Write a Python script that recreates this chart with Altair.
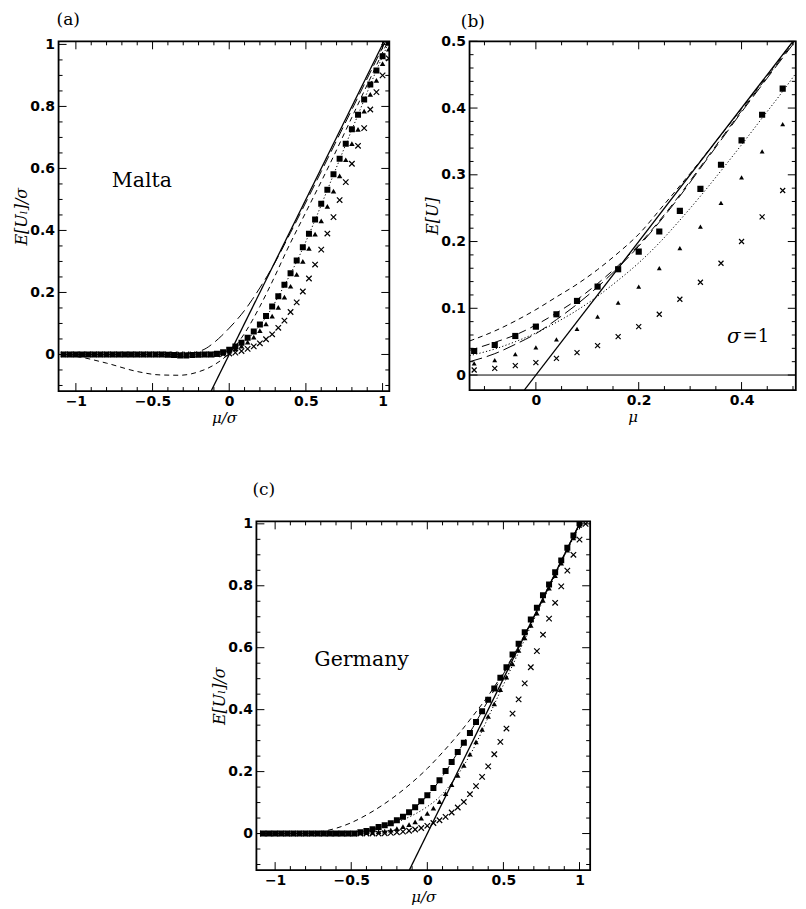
import altair as alt
import pandas as pd

# ---------------- shared x grid of the simulated points (panels a and c)
GRID = [-1.08, -1.04, -1.00, -0.96, -0.92, -0.88, -0.84, -0.80, -0.76, -0.72,
        -0.68, -0.64, -0.60, -0.56, -0.52, -0.48, -0.44, -0.40, -0.36, -0.32,
        -0.28, -0.24, -0.20, -0.16, -0.12, -0.08, -0.04, 0.00, 0.04, 0.08,
        0.12, 0.16, 0.20, 0.24, 0.28, 0.32, 0.36, 0.40, 0.44, 0.48,
        0.52, 0.56, 0.60, 0.64, 0.68, 0.72, 0.76, 0.80, 0.84, 0.88,
        0.92, 0.96, 1.00, 1.04]

# ---------------- panel (a) Malta
A_SQ = [0, 0, 0, 0, 0, 0, 0, 0, 0, 0,
        0, 0, 0, 0, 0, 0, 0, -0.001, -0.002, -0.003,
        -0.003, -0.002, -0.001, 0, 0, 0.002, 0.007, 0.015, 0.026, 0.038,
        0.054, 0.074, 0.097, 0.124, 0.155, 0.188, 0.225, 0.262, 0.303, 0.346,
        0.389, 0.435, 0.486, 0.531, 0.581, 0.631, 0.680, 0.726, 0.773, 0.822,
        0.871, 0.916, 0.962, 1.005]
A_TR = [0, 0, 0, 0, 0, 0, 0, 0, 0, 0,
        0, 0, 0, 0, 0, 0, 0, 0, 0, 0,
        0, 0, 0, 0, 0, 0, 0.004, 0.010, 0.018, 0.027,
        0.040, 0.056, 0.077, 0.099, 0.124, 0.152, 0.185, 0.220, 0.258, 0.300,
        0.342, 0.388, 0.431, 0.478, 0.527, 0.576, 0.628, 0.680, 0.726, 0.785,
        0.839, 0.884, 0.938, 0.985]
A_CR = [0, 0, 0, 0, 0, 0, 0, 0, 0, 0,
        0, 0, 0, 0, 0, 0, 0, 0, 0, 0,
        0, 0, 0, 0, 0, 0, 0.001, 0.003, 0.006, 0.011,
        0.018, 0.026, 0.036, 0.049, 0.065, 0.086, 0.109, 0.137, 0.168, 0.203,
        0.245, 0.290, 0.338, 0.390, 0.443, 0.498, 0.556, 0.615, 0.673, 0.730,
        0.790, 0.846, 0.900, 0.955]

A_SOLID_X = [-0.118, 1.01]
A_SOLID_Y = [-0.118, 1.01]
A_LONG_X = [-1.113, -0.35, -0.25, -0.2, -0.15, -0.1, -0.05, 0, 0.05, 0.1, 0.15, 0.2, 0.25, 0.3, 0.4, 0.6, 0.8, 1.02]
A_LONG_Y = [0, 0, 0.003, 0.009, 0.02, 0.038, 0.06, 0.085, 0.112, 0.142, 0.177, 0.215, 0.255, 0.298, 0.393, 0.59, 0.79, 1.01]
A_SHORT_X = [-1.113, -1.0, -0.8, -0.6, -0.45, -0.32, -0.2, -0.1, 0, 0.1, 0.2, 0.3, 0.375, 0.5, 0.657, 0.8, 0.9, 1.035]
A_SHORT_Y = [0, -0.006, -0.028, -0.055, -0.066, -0.067, -0.056, -0.034, 0.004, 0.068, 0.155, 0.255, 0.335, 0.459, 0.615, 0.765, 0.87, 1.01]
A_DOT_X = [-1.113, -0.3, -0.15, -0.05, 0.05, 0.15, 0.25, 0.35, 0.45, 0.55, 0.65, 0.75, 0.85, 0.95, 1.044]
A_DOT_Y = [0, 0, 0.002, 0.008, 0.025, 0.065, 0.128, 0.214, 0.31, 0.422, 0.543, 0.665, 0.785, 0.905, 1.01]

# ---------------- panel (b) sigma = 1
GRID_B = [-0.12, -0.08, -0.04, 0.00, 0.04, 0.08, 0.12, 0.16, 0.20, 0.24, 0.28, 0.32, 0.36, 0.40, 0.44, 0.48]
B_SQ = [0.036, 0.045, 0.0585, 0.0725, 0.091, 0.111, 0.1325, 0.1585, 0.185, 0.215, 0.246, 0.279, 0.315, 0.3515, 0.39, 0.429]
B_TR = [0.0175, 0.0225, 0.0315, 0.0415, 0.0535, 0.069, 0.0875, 0.1085, 0.1325, 0.16, 0.19, 0.2225, 0.258, 0.296, 0.335, 0.376]
B_CR = [0.0075, 0.010, 0.014, 0.0185, 0.025, 0.0335, 0.044, 0.0575, 0.0725, 0.091, 0.1135, 0.139, 0.1675, 0.200, 0.237, 0.2765]

B_SOLID_X = [-0.0225, 0.5]
B_SOLID_Y = [-0.0225, 0.5]
B_ZERO_X = [-0.129, 0.5055]
B_ZERO_Y = [0, 0]
B_SHORT_X = [-0.129, -0.08, -0.04, 0, 0.04, 0.08, 0.12, 0.16, 0.2, 0.25, 0.3, 0.35, 0.4, 0.45, 0.5]
B_SHORT_Y = [0.051, 0.066, 0.081, 0.098, 0.117, 0.136, 0.158, 0.183, 0.211, 0.256, 0.302, 0.35, 0.399, 0.449, 0.5]
B_MED_X = [-0.129, -0.08, -0.04, 0, 0.04, 0.08, 0.12, 0.16, 0.2, 0.24, 0.28, 0.32, 0.36, 0.4, 0.45, 0.5025]
B_MED_Y = [0.037, 0.049, 0.06, 0.075, 0.093, 0.113, 0.137, 0.164, 0.195, 0.231, 0.27, 0.312, 0.354, 0.396, 0.447, 0.5]
B_LONG_X = [-0.129, -0.08, -0.04, 0, 0.04, 0.08, 0.12, 0.16, 0.2, 0.24, 0.28, 0.32, 0.36, 0.4, 0.45, 0.5045]
B_LONG_Y = [0.02, 0.032, 0.046, 0.062, 0.083, 0.106, 0.132, 0.161, 0.193, 0.229, 0.268, 0.31, 0.352, 0.394, 0.445, 0.5]
B_DOT_X = [-0.129, -0.08, -0.04, 0, 0.04, 0.08, 0.12, 0.16, 0.2, 0.24, 0.28, 0.32, 0.36, 0.4, 0.44, 0.48, 0.5055]
B_DOT_Y = [0.029, 0.039, 0.05, 0.063, 0.079, 0.097, 0.118, 0.142, 0.168, 0.198, 0.232, 0.268, 0.306, 0.345, 0.385, 0.425, 0.452]

# ---------------- panel (c) Germany
C_SQ = [0, 0, 0, 0, 0, 0, 0, 0, 0, 0,
        0, 0, 0, 0, 0, 0, 0.004, 0.008, 0.014, 0.021,
        0.027, 0.033, 0.043, 0.054, 0.069, 0.085, 0.104, 0.124, 0.147, 0.172,
        0.202, 0.231, 0.263, 0.293, 0.325, 0.36, 0.395, 0.432, 0.468, 0.503,
        0.537, 0.578, 0.613, 0.65, 0.691, 0.729, 0.769, 0.804, 0.844, 0.882,
        0.923, 0.962, 1.002, None]
C_TR = [0, 0, 0, 0, 0, 0, 0, 0, 0, 0,
        0, 0, 0, 0, 0, 0, 0.002, 0.003, 0.004, 0.006,
        0.008, 0.011, 0.016, 0.022, 0.029, 0.038, 0.05, 0.065, 0.082, 0.103,
        0.129, 0.158, 0.188, 0.22, 0.256, 0.296, 0.336, 0.378, 0.419, 0.465,
        0.505, 0.548, 0.591, 0.632, 0.672, 0.712, 0.753, 0.792, 0.833, 0.873,
        0.915, 0.955, 0.995, None]
C_CR = [0, 0, 0, 0, 0, 0, 0, 0, 0, 0,
        0, 0, 0, 0, 0, 0, 0, 0, 0, 0,
        0.001, 0.002, 0.004, 0.006, 0.009, 0.013, 0.018, 0.025, 0.034, 0.043,
        0.054, 0.068, 0.084, 0.102, 0.127, 0.153, 0.183, 0.217, 0.256, 0.296,
        0.339, 0.387, 0.433, 0.485, 0.537, 0.589, 0.642, 0.694, 0.745, 0.798,
        0.849, 0.900, 0.949, 1.0]

C_SOLID_X = [-0.118, 1.008]
C_SOLID_Y = [-0.118, 1.008]
C_SHORT_X = [-1.123, -0.8, -0.7, -0.6, -0.5, -0.4, -0.3, -0.2, -0.1, 0, 0.1, 0.2, 0.3, 0.4, 0.5, 0.6, 0.7, 0.8, 0.9, 1.008]
C_SHORT_Y = [0, 0, 0.006, 0.017, 0.035, 0.06, 0.09, 0.125, 0.165, 0.21, 0.262, 0.318, 0.38, 0.445, 0.52, 0.607, 0.7, 0.8, 0.9, 1.008]
C_LONG_X = [-1.123, -0.6, -0.4, -0.3, -0.2, -0.1, 0, 0.1, 0.2, 0.3, 0.4, 0.5, 0.6, 0.7, 0.8, 0.9, 1.008]
C_LONG_Y = [0, 0.002, 0.009, 0.019, 0.04, 0.076, 0.122, 0.185, 0.262, 0.343, 0.43, 0.515, 0.605, 0.698, 0.798, 0.9, 1.008]
C_DOT_X = [-1.123, -0.6, -0.5, -0.4, -0.3, -0.2, -0.1, 0, 0.08, 0.16, 0.24, 0.32, 0.4, 0.5, 0.6, 0.7, 0.8, 0.9, 1.015]
C_DOT_Y = [0, 0.002, 0.005, 0.012, 0.022, 0.037, 0.058, 0.087, 0.118, 0.163, 0.22, 0.29, 0.375, 0.48, 0.585, 0.69, 0.792, 0.895, 1.008]

# ---------------- axes: labels and tick positions
AC_XLAB = [-1, -0.5, 0, 0.5, 1]
AC_YLAB = [0, 0.2, 0.4, 0.6, 0.8, 1]
AC_XMINOR = [-0.9, -0.8, -0.7, -0.6, -0.4, -0.3, -0.2, -0.1, 0.1, 0.2, 0.3, 0.4, 0.6, 0.7, 0.8, 0.9]
AC_YMINOR = [-0.1, -0.05, 0.05, 0.1, 0.15, 0.25, 0.3, 0.35, 0.45, 0.5, 0.55, 0.65, 0.7, 0.75, 0.85, 0.9, 0.95]
B_XLAB = [0, 0.2, 0.4]
B_YLAB = [0, 0.1, 0.2, 0.3, 0.4, 0.5]
B_XMINOR = [-0.1, -0.05, 0.05, 0.1, 0.15, 0.25, 0.3, 0.35, 0.45, 0.5]
B_YMINOR = [0.02, 0.04, 0.06, 0.08, 0.12, 0.14, 0.16, 0.18, 0.22, 0.24, 0.26, 0.28,
            0.32, 0.34, 0.36, 0.38, 0.42, 0.44, 0.46, 0.48]

SERIF = "DejaVu Serif"
SANS = "DejaVu Sans"
CROSS = "M-1,-1L1,1M-1,1L1,-1"


def panel(W, H, xdom, ydom, xlab, ylab, xtitle, ytitle, lines, points, texts,
          xminor, yminor, title, title_dx, title_offset):
    sx = alt.Scale(domain=xdom, nice=False, zero=False)
    sy = alt.Scale(domain=ydom, nice=False, zero=False)
    common = dict(ticks=False, tickSize=0, domain=False, grid=False,
                  labelFont=SANS, labelFontWeight="bold", labelFontSize=14,
                  labelColor="black", format="~g",
                  titleFont=SERIF, titleFontStyle="italic", titleFontWeight="normal",
                  titleColor="black")
    axx = alt.Axis(values=xlab, labelPadding=3, titlePadding=2, title=xtitle,
                   titleFontSize=15, **common)
    axy = alt.Axis(values=ylab, labelPadding=4, titlePadding=0, title=ytitle,
                   titleFontSize=16, **common)

    def X(f):
        return alt.X(f, type="quantitative", scale=sx, axis=axx)

    def Y(f):
        return alt.Y(f, type="quantitative", scale=sy, axis=axy)

    layers = []
    for xs, ys, dash, sw in lines:
        df = pd.DataFrame({"x": xs, "y": ys})
        kw = dict(color="black", strokeWidth=sw, clip=True, interpolate="monotone")
        if dash:
            kw["strokeDash"] = dash
        layers.append(alt.Chart(df).mark_line(**kw).encode(x=X("x"), y=Y("y")))

    for xs, ys, shape, size, filled in points:
        df = pd.DataFrame({"x": xs, "y": ys}).dropna()
        if filled:
            m = alt.Chart(df).mark_point(shape=shape, size=size, filled=True, color="black",
                                         opacity=1, clip=True)
        else:
            m = alt.Chart(df).mark_point(shape=shape, size=size, filled=False, color="black",
                                         strokeWidth=1.2, opacity=1, clip=True)
        layers.append(m.encode(x=X("x"), y=Y("y")))

    for tx, ty, label, size, style, align in texts:
        df = pd.DataFrame({"x": [tx], "y": [ty], "t": [label]})
        layers.append(alt.Chart(df).mark_text(font=SERIF, fontSize=size, fontStyle=style,
                                              align=align, baseline="middle", color="black")
                      .encode(x=X("x"), y=Y("y"), text="t:N"))

    # inward ticks on all four sides
    for vals, L in [(xlab, 8), (xminor, 4)]:
        base = alt.Chart(pd.DataFrame({"t": vals})).mark_rule(color="black", strokeWidth=1)
        layers.append(base.encode(x=X("t"), y=alt.value(H), y2=alt.value(H - L)))
        layers.append(base.encode(x=X("t"), y=alt.value(0), y2=alt.value(L)))
    for vals, L in [(ylab, 8), (yminor, 4)]:
        base = alt.Chart(pd.DataFrame({"t": vals})).mark_rule(color="black", strokeWidth=1)
        layers.append(base.encode(y=Y("t"), x=alt.value(0), x2=alt.value(L)))
        layers.append(base.encode(y=Y("t"), x=alt.value(W), x2=alt.value(W - L)))

    frame = alt.Chart(pd.DataFrame({"z": [0]})).mark_rect(
        filled=False, stroke="black", strokeWidth=1.8).encode(
        x=alt.value(0), x2=alt.value(W), y=alt.value(0), y2=alt.value(H))
    layers.append(frame)

    return alt.layer(*layers).properties(
        width=W, height=H,
        title=alt.TitleParams(text=title, anchor="start", frame="group", font=SERIF,
                              fontSize=17, fontWeight="normal", color="black",
                              offset=title_offset, dx=title_dx))


SOLID = 1.3
pa = panel(331, 350, [-1.113, 1.044], [-0.118, 1.01], AC_XLAB, AC_YLAB, "μ/σ", "E[Uₗ]/σ",
           [(A_SOLID_X, A_SOLID_Y, None, SOLID),
            (A_LONG_X, A_LONG_Y, [11, 5], 1.0),
            (A_SHORT_X, A_SHORT_Y, [5, 4], 1.0),
            (A_DOT_X, A_DOT_Y, [1.2, 2.2], 1.0)],
           [(GRID, A_CR, CROSS, 30, False),
            (GRID, A_TR, "triangle-up", 30, True),
            (GRID, A_SQ, "square", 36, True)],
           [(-0.57, 0.561, "Malta", 20.5, "normal", "center")],
           AC_XMINOR, AC_YMINOR, "(a)", -2, 8.3)

pb = panel(326.5, 349, [-0.129, 0.5055], [-0.0225, 0.5], B_XLAB, B_YLAB, "μ", "E[U]",
           [(B_SOLID_X, B_SOLID_Y, None, SOLID),
            (B_ZERO_X, B_ZERO_Y, None, 1.0),
            (B_SHORT_X, B_SHORT_Y, [5, 4], 1.0),
            (B_MED_X, B_MED_Y, [8, 5], 1.0),
            (B_LONG_X, B_LONG_Y, [13, 5], 1.0),
            (B_DOT_X, B_DOT_Y, [1.2, 2.2], 1.0)],
           [(GRID_B, B_CR, CROSS, 25, False),
            (GRID_B, B_TR, "triangle-up", 24, True),
            (GRID_B, B_SQ, "square", 38, True)],
           [(0.398, 0.0575, "σ", 20, "italic", "right"),
            (0.402, 0.0575, "=1", 18, "normal", "left")],
           B_XMINOR, B_YMINOR, "(b)", -8.7, 3.0)

pc = panel(334, 349, [-1.123, 1.07], [-0.118, 1.008], AC_XLAB, AC_YLAB, "μ/σ", "E[Uₗ]/σ",
           [(C_SOLID_X, C_SOLID_Y, None, SOLID),
            (C_SHORT_X, C_SHORT_Y, [5, 4], 1.0),
            (C_LONG_X, C_LONG_Y, [11, 5], 1.0),
            (C_DOT_X, C_DOT_Y, [1.2, 2.2], 1.0)],
           [(GRID, C_CR, CROSS, 30, False),
            (GRID, C_TR, "triangle-up", 30, True),
            (GRID, C_SQ, "square", 36, True)],
           [(-0.432, 0.561, "Germany", 20.5, "normal", "center")],
           AC_XMINOR, AC_YMINOR, "(c)", -4, 17.7)

spacer = alt.Chart(pd.DataFrame({"z": [0]})).mark_text(text="").encode(
    x=alt.value(0), y=alt.value(0)).properties(width=151.3, height=10)

top = alt.hconcat(pa, pb, spacing=32.3)
bottom = alt.hconcat(spacer, pc, spacing=0)
chart = alt.vconcat(top, bottom, spacing=54.4).properties(
    padding={"left": 4.6, "top": 2, "right": 0, "bottom": 0},
    background="white"
).configure_view(stroke="transparent")

chart.save("out.html", embed_options={"renderer": "svg", "actions": False})
